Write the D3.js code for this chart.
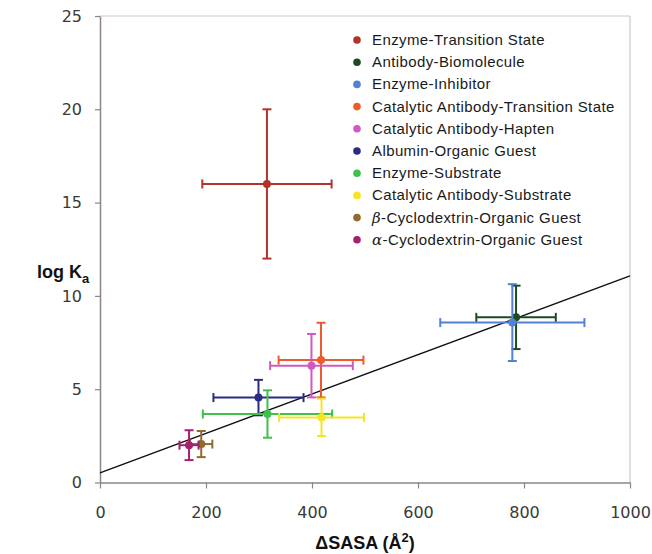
<!DOCTYPE html>
<html>
<head>
<meta charset="utf-8">
<script src="https://cdn.jsdelivr.net/npm/d3@7"></script>
<style>
  body { margin: 0; background: #fff; }
  svg { display: block; }
</style>
</head>
<body>
<svg id="chart" width="652" height="554"></svg>
<script>
// series, in legend order
var names = ["Enzyme-Transition State", "Antibody-Biomolecule", "Enzyme-Inhibitor",
    "Catalytic Antibody-Transition State", "Catalytic Antibody-Hapten", "Albumin-Organic Guest",
    "Enzyme-Substrate", "Catalytic Antibody-Substrate", "β-Cyclodextrin-Organic Guest",
    "α-Cyclodextrin-Organic Guest"];
var colors = ["#b3322b", "#1d4a22", "#5282d2", "#ee5a2c", "#d158c2", "#2b2b82",
    "#3fbf4c", "#f4e524", "#8f6b2c", "#a3216f"];
var sasa = [315, 785, 778, 417, 399, 299, 316, 418, 191, 168];
var logKa = [16.0, 8.85, 8.57, 6.56, 6.26, 4.55, 3.67, 3.49, 2.06, 2.0];
var sasaErr = [122, 75, 136, 80, 78, 85, 122, 80, 21, 18];
var logKaErr = [4.0, 1.7, 2.06, 2.0, 1.7, 0.95, 1.27, 1.0, 0.7, 0.8];

// fitted line
var fitIntercept = 0.52,
    fitSlope = 0.01055;

var xTicks = [0, 200, 400, 600, 800, 1000];
var yTicks = [0, 5, 10, 15, 20, 25];

var margin = { top: 16, right: 22, bottom: 71.5, left: 100 },
    width = 652 - margin.left - margin.right,
    height = 554 - margin.top - margin.bottom;

var svg = d3.select("#chart");
var g = svg.append("g")
    .attr("transform", `translate(${margin.left},${margin.top})`);

var x = d3.scaleLinear().domain([0, 1000]).range([0, width]);
var y = d3.scaleLinear().domain([0, 25]).range([height, 0]);

var axisColor = "#8c8484";

// frame (top & right)
g.append("line").attr("x1", 0).attr("x2", width).attr("y1", 0).attr("y2", 0)
    .attr("stroke", "#cfc8c8").attr("stroke-width", 1.2);
g.append("line").attr("x1", width).attr("x2", width).attr("y1", 0).attr("y2", height)
    .attr("stroke", "#cfc8c8").attr("stroke-width", 1.2);

// axes
var xAxis = g.append("g")
    .attr("transform", `translate(0,${height})`)
    .call(d3.axisBottom(x).tickValues(xTicks).tickFormat(d3.format("d"))
        .tickSize(6).tickPadding(18).tickSizeOuter(0));
var yAxis = g.append("g")
    .call(d3.axisLeft(y).tickValues(yTicks).tickFormat(d3.format("d"))
        .tickSize(5).tickPadding(13).tickSizeOuter(0));

[xAxis, yAxis].forEach(function(a) {
    a.select(".domain").attr("stroke", axisColor).attr("stroke-width", 1.5);
    a.selectAll(".tick line").attr("stroke", axisColor).attr("stroke-width", 1.2);
    a.selectAll(".tick text")
        .attr("fill", "#3a3a3a")
        .style("font-family", "'DejaVu Sans', Verdana, sans-serif")
        .style("font-size", "16px");
});

// fit line
g.append("line")
    .attr("x1", x(0)).attr("y1", y(fitIntercept))
    .attr("x2", x(1000)).attr("y2", y(fitIntercept + fitSlope * 1000))
    .attr("stroke", "#111").attr("stroke-width", 1.4);

// error bars + points
var cap = 4.5;
var data = names.map(function(n, i) {
    return { name: n, color: colors[i], x: sasa[i], y: logKa[i], ex: sasaErr[i], ey: logKaErr[i] };
});

var pts = g.selectAll(".pt")
    .data(data)
    .enter()
    .append("g")
    .attr("class", "pt")
    .attr("stroke", function(d) { return d.color; })
    .attr("stroke-width", 2);

pts.append("line")
    .attr("x1", function(d) { return x(d.x - d.ex); })
    .attr("x2", function(d) { return x(d.x + d.ex); })
    .attr("y1", function(d) { return y(d.y); })
    .attr("y2", function(d) { return y(d.y); });
pts.append("line")
    .attr("x1", function(d) { return x(d.x); })
    .attr("x2", function(d) { return x(d.x); })
    .attr("y1", function(d) { return y(d.y - d.ey); })
    .attr("y2", function(d) { return y(d.y + d.ey); });
// caps
[-1, 1].forEach(function(s) {
    pts.append("line")
        .attr("x1", function(d) { return x(d.x + s * d.ex); })
        .attr("x2", function(d) { return x(d.x + s * d.ex); })
        .attr("y1", function(d) { return y(d.y) - cap; })
        .attr("y2", function(d) { return y(d.y) + cap; });
    pts.append("line")
        .attr("x1", function(d) { return x(d.x) - cap; })
        .attr("x2", function(d) { return x(d.x) + cap; })
        .attr("y1", function(d) { return y(d.y + s * d.ey); })
        .attr("y2", function(d) { return y(d.y + s * d.ey); });
});
pts.append("circle")
    .attr("cx", function(d) { return x(d.x); })
    .attr("cy", function(d) { return y(d.y); })
    .attr("r", 4)
    .attr("stroke", "none")
    .attr("fill", function(d) { return d.color; });

// legend
var legend = svg.append("g").attr("transform", "translate(357,40)");
var rows = legend.selectAll(".leg")
    .data(data)
    .enter()
    .append("g")
    .attr("class", "leg")
    .attr("transform", function(d, i) { return `translate(0,${i * 22.2})`; });
rows.append("circle").attr("r", 3.8).attr("fill", function(d) { return d.color; });
var lt = rows.append("text")
    .attr("x", 15)
    .attr("y", 5)
    .style("font-family", "'Liberation Sans', Arial, sans-serif")
    .style("font-size", "15px")
    .style("letter-spacing", "0.4px")
    .attr("fill", "#1a1a1a");
lt.each(function(d) {
    var t = d3.select(this);
    var first = d.name.charAt(0);
    if (first == "α" || first == "β") {
        t.append("tspan").style("font-style", "italic").style("font-family", "'DejaVu Serif', serif").text(first);
        t.append("tspan").text(d.name.slice(1));
    } else {
        t.text(d.name);
    }
});

// axis titles
var yl = svg.append("text")
    .attr("x", 37)
    .attr("y", 278)
    .style("font-family", "'Liberation Sans', Arial, sans-serif")
    .style("font-size", "18px")
    .style("font-weight", "bold")
    .attr("fill", "#111");
yl.append("tspan").text("log K");
yl.append("tspan").attr("dy", 5).style("font-size", "13px").text("a");

var xl = svg.append("text")
    .attr("x", margin.left + width / 2)
    .attr("y", 549)
    .attr("text-anchor", "middle")
    .style("font-family", "'Liberation Sans', Arial, sans-serif")
    .style("font-size", "18px")
    .style("font-weight", "bold")
    .attr("fill", "#111");
xl.append("tspan").text("ΔSASA (Å");
xl.append("tspan").attr("dy", -7).style("font-size", "13px").text("2");
xl.append("tspan").attr("dy", 7).text(")");
</script>
</body>
</html>
